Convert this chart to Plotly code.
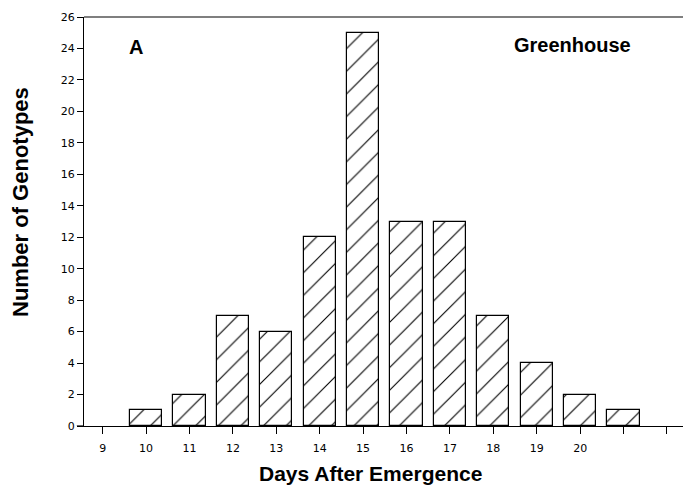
import plotly.graph_objects as go

days = [10, 11, 12, 13, 14, 15, 16, 17, 18, 19, 20, 21]
counts = [1, 2, 7, 6, 12, 25, 13, 13, 7, 4, 2, 1]
x_ticks = list(range(9, 23))
x_tick_labels = [str(v) if v <= 20 else "" for v in x_ticks]
y_ticks = list(range(0, 27, 2))

TITLE_FONT = "Liberation Sans, Arial"

fig = go.Figure()
fig.add_trace(go.Bar(
    x=days, y=counts, width=0.74,
    marker=dict(color="white", line=dict(color="black", width=1.2),
                pattern=dict(shape="/", fgcolor="black", fgopacity=1, bgcolor="white", size=16, solidity=0.07)),
    showlegend=False,
))

fig.update_layout(
    width=683, height=488,
    margin=dict(l=84, r=0, t=17, b=62),
    plot_bgcolor="white", paper_bgcolor="white",
    font=dict(family="Liberation Sans, Arial", color="black"),
    bargap=0,
)
fig.update_xaxes(
    range=[8.57, 22.37], tickvals=x_ticks, ticktext=x_tick_labels,
    ticks="outside", ticklen=7, tickcolor="black", tickwidth=1,
    ticklabelstandoff=5,
    showline=True, linecolor="black", linewidth=1.2, mirror=False,
    showgrid=False, zeroline=False,
    tickfont=dict(size=11, family="DejaVu Sans", color="black"),
)
fig.update_yaxes(
    range=[0, 26], tickvals=y_ticks,
    ticks="outside", ticklen=6, tickcolor="black", tickwidth=1,
    showline=True, linecolor="black", linewidth=1.2,
    showgrid=False, zeroline=False,
    tickfont=dict(size=11, family="DejaVu Sans", color="black"),
)
# axis titles as annotations for precise placement
fig.add_annotation(text="<b>Days After Emergence</b>", xref="paper", yref="paper",
                   x=(370 - 84) / 599, y=-(473 - 426) / 409, xanchor="center", yanchor="middle",
                   showarrow=False, font=dict(size=21, family=TITLE_FONT))
fig.add_annotation(text="<b>Number of Genotypes</b>", textangle=-90, xref="paper", yref="paper",
                   x=-(84 - 20) / 599, y=(426 - 202) / 409, xanchor="center", yanchor="middle",
                   showarrow=False, font=dict(size=22, family=TITLE_FONT))
# top border line
fig.add_shape(type="line", xref="paper", yref="paper", x0=0, x1=1, y0=1, y1=1,
              line=dict(color="black", width=1.2))
# x-axis line extends slightly left of y-axis
fig.add_shape(type="line", xref="paper", yref="y", x0=-0.012, x1=0, y0=0, y1=0,
              line=dict(color="black", width=1.2))
fig.add_annotation(text="<b>A</b>", x=(136 - 84) / 599, y=(426 - 47) / 409, xref="paper", yref="paper",
                   xanchor="center", yanchor="middle",
                   showarrow=False, font=dict(size=20, family=TITLE_FONT))
fig.add_annotation(text="<b>Greenhouse</b>", x=(572 - 84) / 599, y=(426 - 45) / 409, xref="paper", yref="paper",
                   xanchor="center", yanchor="middle",
                   showarrow=False, font=dict(size=20, family=TITLE_FONT))

fig.write_html("out.html")
